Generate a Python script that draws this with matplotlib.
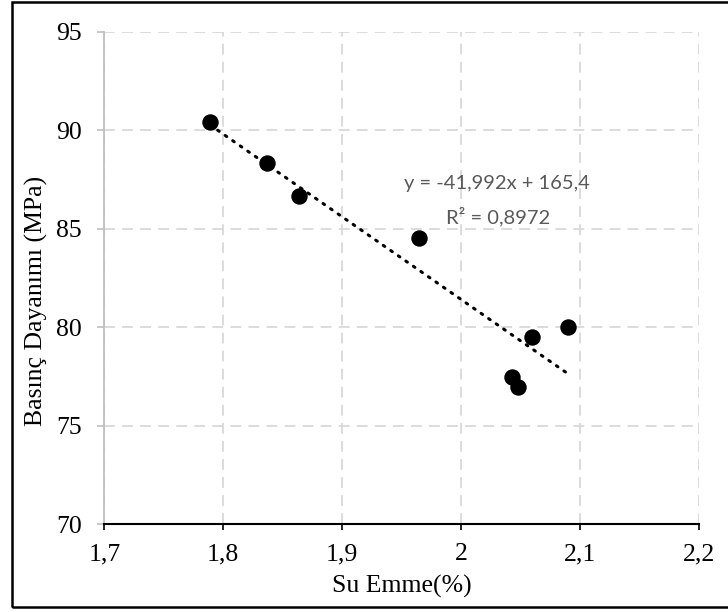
import matplotlib
matplotlib.use("Agg")
import matplotlib.pyplot as plt
from matplotlib.patches import Rectangle
from matplotlib.ticker import FuncFormatter

# Data
su_emme = [1.789, 1.837, 1.864, 1.965, 2.060, 2.090, 2.043, 2.048]
basinc = [90.41, 88.37, 86.67, 84.54, 79.49, 80.03, 77.49, 76.99]
slope = -41.992
intercept = 165.4
eq_text = "y = -41,992x + 165,4"
r2_text = "R² = 0,8972"
x_ticks = [1.7, 1.8, 1.9, 2.0, 2.1, 2.2]
y_ticks = [70, 75, 80, 85, 90, 95]

W, H = 728, 612
fig = plt.figure(figsize=(W / 100, H / 100), dpi=100)
left, right, top, bottom = 104.3, 699, 32, 524.3
aw, ah = right - left, bottom - top
ax = fig.add_axes([left / W, 1 - bottom / H, aw / W, ah / H])

serif = "Liberation Serif"
grid_c = "#d9d9d9"

ax.set_xlim(1.7, 2.2)
ax.set_ylim(70, 95)
ax.set_xticks(x_ticks)
ax.set_yticks(y_ticks)

def fmt(v, pos):
    s = ("%.1f" % v).rstrip("0").rstrip(".")
    return s.replace(".", ",")

ax.xaxis.set_major_formatter(FuncFormatter(fmt))
ax.yaxis.set_major_formatter(FuncFormatter(lambda v, p: "%d" % v))

ax.grid(True, color=grid_c, linestyle=(0, (6, 4)), linewidth=1.3)
ax.set_axisbelow(True)
for s in ["top", "right"]:
    ax.spines[s].set_visible(False)
ax.spines["left"].set_color("#bfbfbf")
ax.spines["left"].set_linewidth(1.3)
ax.spines["bottom"].set_color("black")
ax.spines["bottom"].set_linewidth(1.5)
ax.tick_params(axis="y", direction="out", length=5, width=1.2, color="#bfbfbf",
               labelsize=18.5, pad=11)
ax.tick_params(axis="x", direction="out", length=4.5, width=1.2, color="black",
               labelsize=18.5, pad=9)
for lab in ax.get_xticklabels() + ax.get_yticklabels():
    lab.set_fontfamily(serif)

# trendline
xs = [min(su_emme), max(su_emme)]
ys = [slope * x + intercept for x in xs]
ax.plot(xs, ys, color="black", linewidth=2.2, linestyle=(0, (0.6, 2.4)),
        dash_capstyle="round", zorder=2)

ax.scatter(su_emme, basinc, s=140, color="black", zorder=3, linewidths=0)

ax.text(497, H - 183, eq_text, transform=None, ha="center", va="center",
        fontsize=14.5, color="#595959", family="Lato")
ax.text(498, H - 217, r2_text, transform=None, ha="center", va="center",
        fontsize=14.5, color="#595959", family="Lato")

ax.set_xlabel("Su Emme(%)", fontsize=18.5, family=serif)
ax.xaxis.label.set_va("center")
ax.xaxis.set_label_coords((401.6 - left) / aw, (bottom - 586) / ah)
ax.set_ylabel("Basınç Dayanımı (MPa)", fontsize=18.5, family=serif)
ax.yaxis.label.set_va("center")
ax.yaxis.set_label_coords((36 - left) / aw, (bottom - 301) / ah)

fig.patches.append(Rectangle((12 / W, 5 / H), (W + 5 - 12) / W, (H - 7) / H,
                             transform=fig.transFigure, fill=False,
                             edgecolor="black", linewidth=1.8))

fig.savefig("out.png", dpi=100)
